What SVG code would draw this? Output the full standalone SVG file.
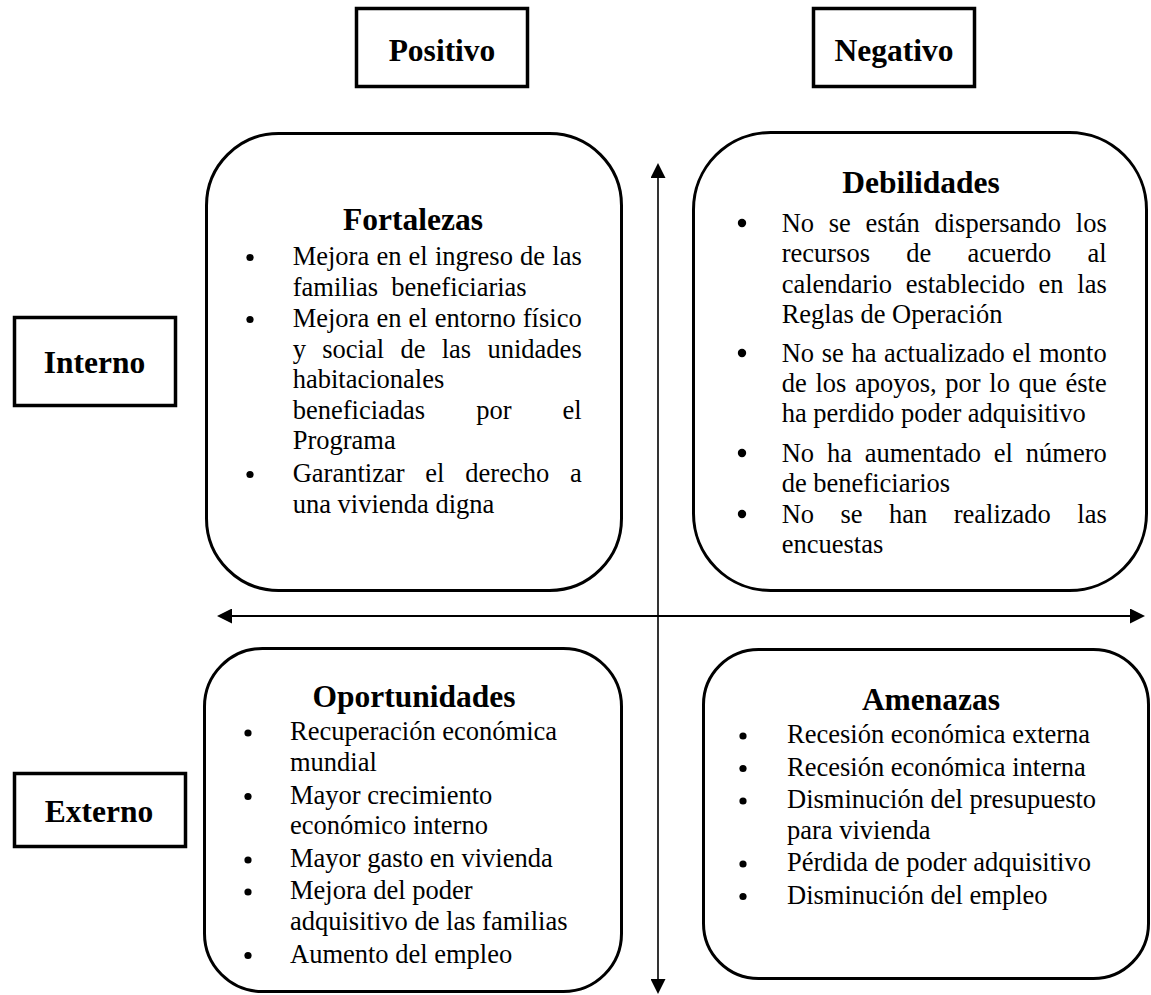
<svg xmlns="http://www.w3.org/2000/svg" width="1151" height="995" viewBox="0 0 1151 995">
<style>
.lbl{font-family:"Liberation Serif","Times New Roman",serif;font-weight:bold;font-size:31.5px;text-anchor:middle;fill:#000}
.b{font-family:"Liberation Serif","Times New Roman",serif;font-size:26.5px;fill:#000}
.sq{fill:#fff;stroke:#000;stroke-width:3.5}
.rr{fill:#fff;stroke:#000;stroke-width:3}
.dot{fill:#000}
.ax{stroke:#000;fill:none}
</style>
<defs>
<marker id="ah" markerUnits="userSpaceOnUse" markerWidth="15" markerHeight="15" viewBox="0 0 15 15" refX="0" refY="7.5" orient="auto-start-reverse">
<path d="M0,0 L15,7.5 L0,15 Z" fill="#000"/>
</marker>
</defs>
<rect width="1151" height="995" fill="#fff"/>

<g id="positivo">
<rect class="sq" x="356.5" y="8.5" width="171" height="78"/>
<text class="lbl" x="442" y="61">Positivo</text>
</g>
<g id="negativo">
<rect class="sq" x="813.5" y="8.5" width="161" height="78"/>
<text class="lbl" x="894" y="61">Negativo</text>
</g>
<g id="interno">
<rect class="sq" x="14.5" y="317.5" width="161" height="88"/>
<text class="lbl" x="94.5" y="373">Interno</text>
</g>
<g id="externo">
<rect class="sq" x="14.5" y="773.5" width="171" height="73"/>
<text class="lbl" x="99" y="822">Externo</text>
</g>

<g id="connectors">
<line class="ax" x1="232" y1="616" x2="1130" y2="616" stroke-width="2" marker-start="url(#ah)" marker-end="url(#ah)"/>
<line class="ax" x1="658" y1="178" x2="658" y2="979" stroke-width="1.6" marker-start="url(#ah)" marker-end="url(#ah)"/>
</g>

<g id="fortalezas">
<rect class="rr" x="206.5" y="133.5" width="415" height="457" rx="72" ry="72"/>
<text class="lbl" x="413" y="230">Fortalezas</text>
<circle class="dot" cx="250" cy="257.5" r="3.6"/>
<circle class="dot" cx="250" cy="319.5" r="3.6"/>
<circle class="dot" cx="250" cy="474.5" r="3.6"/>
<text class="b" y="265"><tspan x="292.7">Mejora</tspan><tspan x="376.4">en</tspan><tspan x="408.6">el</tspan><tspan x="434.9">ingreso</tspan><tspan x="520.1">de</tspan><tspan x="552.3">las</tspan></text>
<text class="b" y="295.5"><tspan x="292.7">familias</tspan><tspan x="391.3">beneficiarias</tspan></text>
<text class="b" y="327"><tspan x="292.7">Mejora</tspan><tspan x="376.4">en</tspan><tspan x="408.5">el</tspan><tspan x="434.7">entorno</tspan><tspan x="522.8">físico</tspan></text>
<text class="b" y="357.5"><tspan x="292.7">y</tspan><tspan x="322.3">social</tspan><tspan x="400.4">de</tspan><tspan x="441.7">las</tspan><tspan x="487.5">unidades</tspan></text>
<text class="b" x="292.7" y="388">habitacionales</text>
<text class="b" y="418.5"><tspan x="292.7">beneficiadas</tspan><tspan x="476.2">por</tspan><tspan x="562.6">el</tspan></text>
<text class="b" x="292.7" y="449">Programa</text>
<text class="b" y="482"><tspan x="292.7">Garantizar</tspan><tspan x="425.3">el</tspan><tspan x="465.3">derecho</tspan><tspan x="569.9">a</tspan></text>
<text class="b" x="292.7" y="512.5">una vivienda digna</text>
</g>

<g id="debilidades">
<rect class="rr" x="693.5" y="132.5" width="453" height="458" rx="77" ry="77"/>
<text class="lbl" x="921" y="193">Debilidades</text>
<circle class="dot" cx="742" cy="223" r="4.2"/>
<circle class="dot" cx="742" cy="353" r="4.2"/>
<circle class="dot" cx="742" cy="453" r="4.2"/>
<circle class="dot" cx="742" cy="514" r="4.2"/>
<text class="b" y="232"><tspan x="781.7">No</tspan><tspan x="828.7">se</tspan><tspan x="865.4">están</tspan><tspan x="934.5">dispersando</tspan><tspan x="1075.8">los</tspan></text>
<text class="b" y="262"><tspan x="781.7">recursos</tspan><tspan x="906.2">de</tspan><tspan x="967.5">acuerdo</tspan><tspan x="1087.6">al</tspan></text>
<text class="b" y="293"><tspan x="781.7">calendario</tspan><tspan x="905.7">establecido</tspan><tspan x="1038.6">en</tspan><tspan x="1077.3">las</tspan></text>
<text class="b" x="781.7" y="323">Reglas de Operación</text>
<text class="b" y="362"><tspan x="781.7">No</tspan><tspan x="821.7">se</tspan><tspan x="851.4">ha</tspan><tspan x="884">actualizado</tspan><tspan x="1012.3">el</tspan><tspan x="1039">monto</tspan></text>
<text class="b" y="392"><tspan x="781.7">de</tspan><tspan x="815.4">los</tspan><tspan x="855">apoyos,</tspan><tspan x="945.3">por</tspan><tspan x="989.3">lo</tspan><tspan x="1018.6">que</tspan><tspan x="1065.5">éste</tspan></text>
<text class="b" x="781.7" y="422">ha perdido poder adquisitivo</text>
<text class="b" y="462"><tspan x="781.7">No</tspan><tspan x="826.9">ha</tspan><tspan x="864.7">aumentado</tspan><tspan x="993.8">el</tspan><tspan x="1025.8">número</tspan></text>
<text class="b" x="781.7" y="492">de beneficiarios</text>
<text class="b" y="523"><tspan x="781.7">No</tspan><tspan x="840.5">se</tspan><tspan x="889">han</tspan><tspan x="953.7">realizado</tspan><tspan x="1077.3">las</tspan></text>
<text class="b" x="781.7" y="553">encuestas</text>
</g>

<g id="oportunidades">
<rect class="rr" x="204.5" y="648.5" width="417" height="343" rx="58" ry="58"/>
<text class="lbl" x="414" y="707">Oportunidades</text>
<circle class="dot" cx="248" cy="733" r="3.6"/>
<circle class="dot" cx="248" cy="796.5" r="3.6"/>
<circle class="dot" cx="248" cy="860" r="3.6"/>
<circle class="dot" cx="248" cy="892" r="3.6"/>
<circle class="dot" cx="248" cy="955.5" r="3.6"/>
<text class="b" x="290" y="740">Recuperación económica</text>
<text class="b" x="290" y="770.5">mundial</text>
<text class="b" x="290" y="803.5">Mayor crecimiento</text>
<text class="b" x="290" y="834">económico interno</text>
<text class="b" x="290" y="867">Mayor gasto en vivienda</text>
<text class="b" x="290" y="899">Mejora del poder</text>
<text class="b" x="290" y="929.5">adquisitivo de las familias</text>
<text class="b" x="290" y="962.5">Aumento del empleo</text>
</g>

<g id="amenazas">
<rect class="rr" x="703.5" y="649.5" width="445" height="329" rx="55" ry="55"/>
<text class="lbl" x="931" y="710">Amenazas</text>
<circle class="dot" cx="743" cy="736" r="3.6"/>
<circle class="dot" cx="743" cy="768.5" r="3.6"/>
<circle class="dot" cx="743" cy="801" r="3.6"/>
<circle class="dot" cx="743" cy="864" r="3.6"/>
<circle class="dot" cx="743" cy="896.5" r="3.6"/>
<text class="b" x="787" y="743">Recesión económica externa</text>
<text class="b" x="787" y="775.5">Recesión económica interna</text>
<text class="b" x="787" y="808">Disminución del presupuesto</text>
<text class="b" x="787" y="838.5">para vivienda</text>
<text class="b" x="787" y="871">Pérdida de poder adquisitivo</text>
<text class="b" x="787" y="903.5">Disminución del empleo</text>
</g>
</svg>
